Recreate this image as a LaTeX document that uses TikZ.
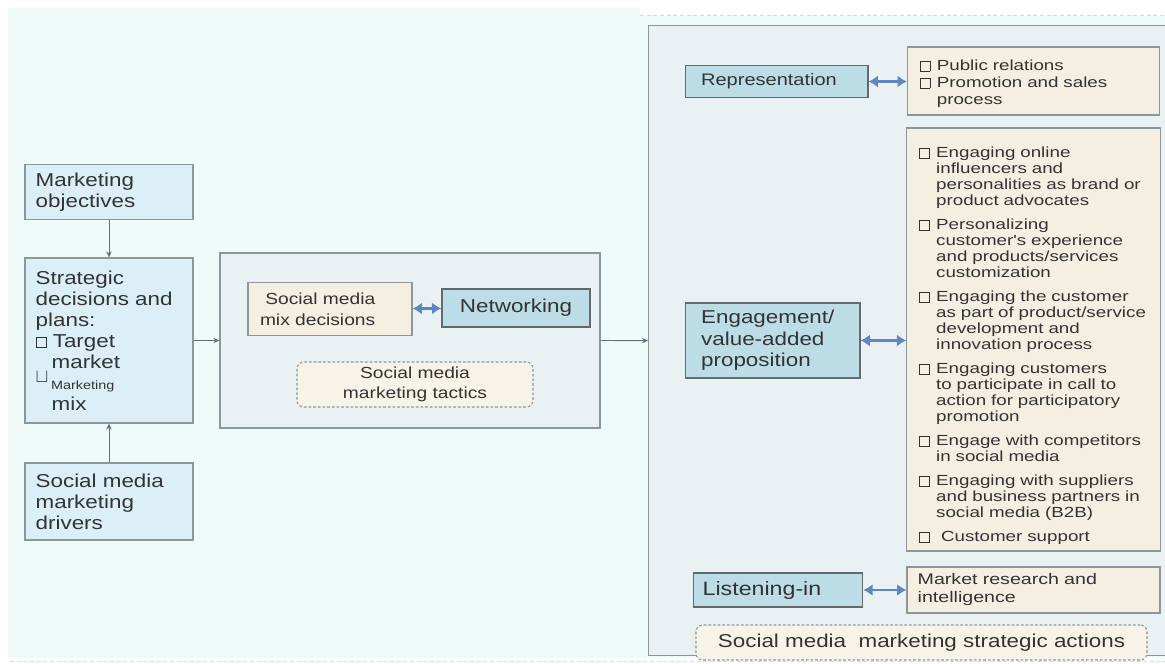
\documentclass[tikz,border=0pt]{standalone}
\usepackage{fontspec}
\setmainfont[FakeStretch=1.2]{Liberation Sans}
\newfontfamily\listfont[FakeStretch=1.28]{Liberation Sans}
\usetikzlibrary{arrows.meta}

\definecolor{bgmint}{HTML}{EFFBF8}
\definecolor{framefill}{HTML}{EAF1F2}
\definecolor{framegray}{HTML}{8C979B}
\definecolor{leftblue}{HTML}{DCEFF8}
\definecolor{keyblue}{HTML}{BDDDE6}
\definecolor{beige}{HTML}{F4EFE0}
\definecolor{linkgray}{HTML}{5F7080}
\definecolor{arrowblue}{HTML}{5F86BF}
\definecolor{txtgray}{HTML}{333333}

\begin{document}
\begin{tikzpicture}[x=0.75pt, y=-0.75pt,
  box/.style={draw=framegray, line width=0.9pt, fill=leftblue, text=txtgray, align=left, inner xsep=8pt, text width=110pt},
  keybox/.style={draw=framegray!70!black, line width=1pt, fill=keyblue, text=txtgray, align=left},
  listbox/.style={draw=framegray, line width=0.9pt, fill=beige, text=txtgray, align=left, inner xsep=9pt},
  tagbox/.style={draw=framegray, dash pattern=on 2pt off 1.5pt, line width=0.8pt, rounded corners=5pt, fill=beige!75!white, text=txtgray, align=center},
  frame/.style={draw=framegray, line width=0.9pt, fill=framefill},
  link/.style={draw=linkgray, line width=0.7pt, -{Stealth[length=4.5pt,width=4pt]}},
  dbl/.style={draw=arrowblue, line width=2pt, {Latex[length=7pt,width=9pt]}-{Latex[length=7pt,width=9pt]}}
]
  \newcommand{\ChkBox}{{\setlength{\fboxsep}{0pt}\setlength{\fboxrule}{0.6pt}\fbox{\rule{0pt}{7pt}\rule{7pt}{0pt}}}}
  \newcommand{\Itm}[1]{\par\hangindent=13pt\hangafter=1\noindent\makebox[13pt][l]{\ChkBox}#1\par}
  \newcommand{\NoHyph}{\hyphenpenalty=10000\relax}
  \useasboundingbox (0,0) rectangle (1165,664);
  \clip (0,0) rectangle (1165,664);
  % background
  \fill[bgmint] (8,8) rectangle (640,658);
  \fill[bgmint] (640,16) rectangle (1165,658);
  \draw[gray!30, dash pattern=on 3pt off 2pt] (640,15) -- (1165,15);
  \draw[gray!30, dash pattern=on 3pt off 2pt] (10,661) -- (1165,661);

  % left column
  \node[box, minimum height=41.25pt, font=\fontsize{14}{15.75}\selectfont] (obj) at (109,192) {Marketing\\objectives};
  \node[box, minimum height=123.75pt, font=\fontsize{14}{15.75}\selectfont] (strat) at (109,340.5)
    {Strategic\\decisions and\\plans:\\\ChkBox\ Target\\\hspace*{12pt}market\\\raisebox{5pt}{$\sqcup$}\hspace{2pt}{\small Marketing}\\\hspace*{12pt}mix};
  \node[box, minimum height=57.75pt, font=\fontsize{14}{15.75}\selectfont] (drv) at (109,501.5) {Social media\\marketing\\drivers};
  \draw[link] (obj) -- (strat);
  \draw[link] (drv) -- (strat);

  % tactics
  \node[frame, minimum width=285pt, minimum height=131.25pt] (mid) at (410,340.5) {};
  \node[listbox, text width=105pt, minimum height=39.75pt, font=\fontsize{12}{15.75}\selectfont] (mix) at (330,309) {\hspace*{4pt}Social media\\mix decisions};
  \node[keybox, align=center, minimum width=111pt, minimum height=28.5pt, font=\fontsize{14}{16}\selectfont] (net) at (516,308) {Networking};
  \node[tagbox, minimum width=177pt, minimum height=33.75pt, font=\fontsize{12}{15}\selectfont] (tac) at (415,384.5) {Social media\\marketing tactics};
  \draw[dbl] (mix) -- (net);
  \draw[link] (strat.east) -- (mid.west);

  % strategic actions
  \node[frame, minimum width=396pt, minimum height=472.5pt, anchor=north west] (act) at (648,25) {};
  \draw[link] (mid.east) -- (act.west);

  \node[keybox, inner xsep=12pt, text width=113pt, minimum height=24pt, font=\fontsize{12.5}{14}\selectfont] (rep) at (776.5,81.5) {Representation};
  \node[listbox, text width=171pt, minimum height=51pt, font=\listfont\fontsize{11}{12.75}\selectfont\NoHyph] (replist) at (1033.5,81)
    {\Itm{Public relations}\Itm{Promotion and sales\newline process}};
  \draw[dbl] (rep.east) -- (rep.east -| replist.west);

  \node[keybox, inner xsep=12pt, text width=107pt, minimum height=56.25pt, font=\fontsize{14}{16}\selectfont] (eng) at (772.5,340.5) {Engagement/\\value-added\\proposition};
  \node[listbox, text width=172pt, minimum height=317.25pt, font=\listfont\fontsize{11}{12}\selectfont\setlength{\parskip}{6pt}\NoHyph] (englist) at (1033.5,339.5)
    {\Itm{Engaging online\newline influencers and\newline personalities as brand or\newline product advocates}%
     \Itm{Personalizing\newline customer's experience\newline and products/services\newline customization}%
     \Itm{Engaging the customer\newline as part of product/service\newline development and\newline innovation process}%
     \Itm{Engaging customers\newline to participate in call to\newline action for participatory\newline promotion}%
     \Itm{Engage with competitors\newline in social media}%
     \Itm{Engaging with suppliers\newline and business partners in\newline social media (B2B)}%
     \Itm{\ Customer support}};
  \draw[dbl] (eng.east) -- (eng.east -| englist.west);

  \node[keybox, inner xsep=7pt, text width=113pt, minimum height=25.5pt, font=\fontsize{14.5}{16}\selectfont] (lis) at (778,590) {Listening-in};
  \node[listbox, inner xsep=8pt, text width=173.75pt, minimum height=34.5pt, font=\listfont\fontsize{11.5}{13.5}\selectfont] (lislist) at (1033.5,590)
    {Market research and\\intelligence};
  \draw[dbl] (lis.east) -- (lis.east -| lislist.west);

  \node[tagbox, minimum width=338.25pt, minimum height=26.25pt, font=\fontsize{14}{16}\selectfont] (sact) at (921.5,642.5) {Social media\ \ marketing strategic actions};
\end{tikzpicture}
\end{document}
